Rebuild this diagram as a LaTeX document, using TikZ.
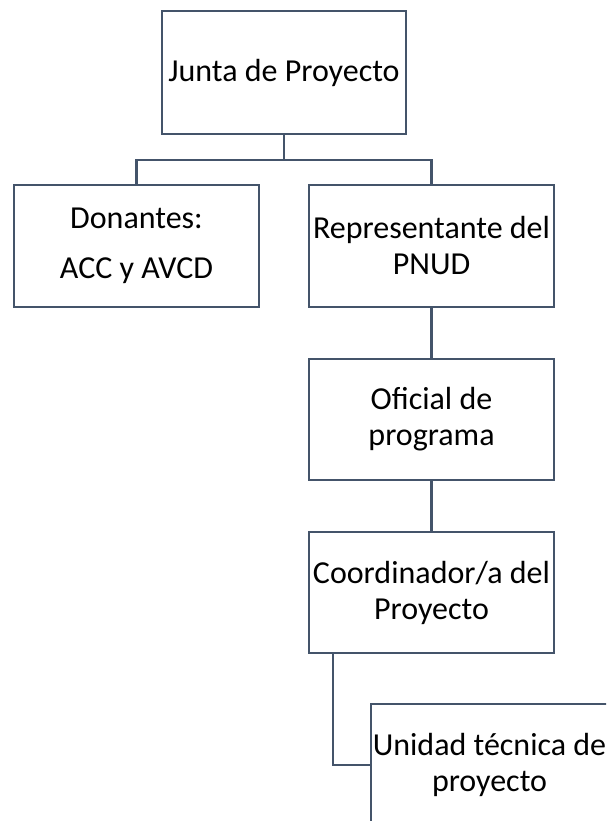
\documentclass[tikz,border=0pt]{standalone}
\usepackage{fontspec}
\setmainfont{Carlito}
\definecolor{orgline}{HTML}{44546A}
\tikzset{
        orgbox/.style={draw=orgline, line width=2.2pt, rectangle, minimum width=245pt,
                minimum height=122pt, align=center, inner sep=1pt,
                font=\fontsize{32}{36}\selectfont},
        orglink/.style={draw=orgline, line width=2.2pt}
}
\begin{document}
\begin{tikzpicture}[x=1pt,y=-1pt]%
        \useasboundingbox (0,0) rectangle (606,821);
        \clip (0,0) rectangle (606,821);
        \node[orgbox, minimum width=244pt, minimum height=123pt] (junta) at (284,72.5) {Junta de Proyecto};
        \node[orgbox] (donantes) at (136.5,246) {Donantes:\\[14pt]ACC y AVCD};
        \node[orgbox] (repre) at (431.5,246) {Representante del\\PNUD};
        \node[orgbox, minimum height=121pt] (oficial) at (431.5,419.5) {Oficial de\\programa};
        \node[orgbox, minimum height=121pt] (coord) at (431.5,592.5) {Coordinador/a del\\Proyecto};
        \node[orgbox, minimum width=237pt] (unidad) at (489.5,765) {Unidad t\'ecnica de\\proyecto};
        \coordinate (bar) at (0,160);
        \draw[orglink] (junta.south) -- (junta.south |- bar);
        \draw[orglink] (donantes.north) -- (donantes.north |- bar) -- (repre.north |- bar) -- (repre.north);
        \draw[orglink] (repre.south) -- (oficial.north);
        \draw[orglink] (oficial.south) -- (coord.north);
        \draw[orglink] ([xshift=25pt]coord.south west) |- (unidad.west);
\end{tikzpicture}
\end{document}
